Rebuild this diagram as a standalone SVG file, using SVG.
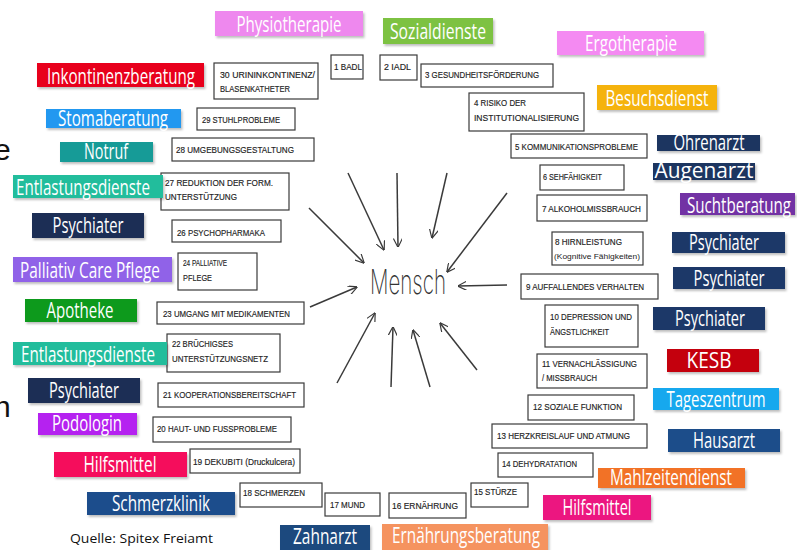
<svg xmlns="http://www.w3.org/2000/svg" width="797" height="550" viewBox="0 0 797 550">
<defs>
<style>
.lbl{font-family:"Liberation Sans Narrow","Open Sans","Liberation Sans",sans-serif;font-size:21px;text-anchor:middle;fill:#ffffff}
.box rect{fill:#ffffff;stroke:#3a3a3a;stroke-width:1.2}
.bt{font-family:"Liberation Sans",Arial,sans-serif;font-size:8.5px;fill:#222222;stroke:#222222;stroke-width:0.15}
.bs{font-family:"Liberation Sans",Arial,sans-serif;font-size:7.5px;fill:#222222}
.arr{stroke:#3a3a3a;stroke-width:1.5;fill:none;marker-end:url(#ah)}
.edge{font-family:"Liberation Sans",Arial,sans-serif;font-size:30px;fill:#111111}
</style>
<marker id="ah" viewBox="0 0 10 10" refX="9.5" refY="5" markerWidth="9" markerHeight="9" markerUnits="userSpaceOnUse" orient="auto">
<path d="M0,0 L10,5 L0,10" fill="none" stroke="#3a3a3a" stroke-width="1.3"/>
</marker>
<filter id="sh" x="-10%" y="-20%" width="130%" height="160%">
<feDropShadow dx="1.5" dy="2" stdDeviation="1.2" flood-color="#000" flood-opacity="0.25"/>
</filter>
</defs>
<rect width="797" height="550" fill="#ffffff"/>

<text class="edge" x="-6" y="160">e</text>
<text class="edge" x="-6" y="417">n</text>

<g id="center">
<text x="370" y="294" font-family="Inter,'Open Sans',sans-serif" font-weight="200" font-size="34" fill="#333333" textLength="76" lengthAdjust="spacingAndGlyphs">Mensch</text>
</g>

<g id="connectors">
<line class="arr" x1="309" y1="208" x2="364" y2="263"/>
<line class="arr" x1="348" y1="173" x2="384" y2="250"/>
<line class="arr" x1="397" y1="173" x2="398" y2="247"/>
<line class="arr" x1="447" y1="173" x2="432" y2="238"/>
<line class="arr" x1="507" y1="193" x2="447" y2="272"/>
<line class="arr" x1="507" y1="285" x2="458" y2="286"/>
<line class="arr" x1="310" y1="307" x2="357" y2="287"/>
<line class="arr" x1="337" y1="383" x2="375" y2="313"/>
<line class="arr" x1="391" y1="387" x2="393" y2="327"/>
<line class="arr" x1="430" y1="387" x2="413" y2="330"/>
<line class="arr" x1="477" y1="370" x2="440" y2="323"/>
</g>

<g id="b1" class="box"><rect x="331" y="55" width="32" height="24"/><text class="bt" x="334" y="70" textLength="28" lengthAdjust="spacingAndGlyphs">1 BADL</text></g>
<g id="b2" class="box"><rect x="380" y="55" width="37" height="25"/><text class="bt" x="384" y="70" textLength="27" lengthAdjust="spacingAndGlyphs">2 IADL</text></g>
<g id="b3" class="box"><rect x="421" y="64" width="132" height="23"/><text class="bt" x="425" y="78" textLength="114" lengthAdjust="spacingAndGlyphs">3 GESUNDHEITSFÖRDERUNG</text></g>
<g id="b4" class="box"><rect x="469" y="93" width="115" height="38"/><text class="bt" x="474" y="106" textLength="52" lengthAdjust="spacingAndGlyphs">4 RISIKO DER</text><text class="bt" x="474" y="121" textLength="105" lengthAdjust="spacingAndGlyphs">INSTITUTIONALISIERUNG</text></g>
<g id="b5" class="box"><rect x="511" y="134" width="136" height="24"/><text class="bt" x="515" y="150" textLength="123" lengthAdjust="spacingAndGlyphs">5 KOMMUNIKATIONSPROBLEME</text></g>
<g id="b6" class="box"><rect x="540" y="165" width="84" height="25"/><text class="bt" x="543" y="180" textLength="59" lengthAdjust="spacingAndGlyphs">6 SEHFÄHIGKEIT</text></g>
<g id="b7" class="box"><rect x="537" y="195" width="110" height="26"/><text class="bt" x="542" y="212" textLength="99" lengthAdjust="spacingAndGlyphs">7 ALKOHOLMISSBRAUCH</text></g>
<g id="b8" class="box"><rect x="552" y="232" width="91" height="33"/><text class="bt" x="555" y="245" textLength="67" lengthAdjust="spacingAndGlyphs">8 HIRNLEISTUNG</text><text class="bs" x="554" y="259" textLength="86" lengthAdjust="spacingAndGlyphs">(Kognitive Fähigkeiten)</text></g>
<g id="b9" class="box"><rect x="521" y="274" width="137" height="25"/><text class="bt" x="526" y="290" textLength="118" lengthAdjust="spacingAndGlyphs">9 AUFFALLENDES VERHALTEN</text></g>
<g id="b10" class="box"><rect x="545" y="305" width="93" height="42"/><text class="bt" x="550" y="320" textLength="82" lengthAdjust="spacingAndGlyphs">10 DEPRESSION UND</text><text class="bt" x="550" y="335" textLength="59" lengthAdjust="spacingAndGlyphs">ÄNGSTLICHKEIT</text></g>
<g id="b11" class="box"><rect x="537" y="354" width="110" height="34"/><text class="bt" x="542" y="367" textLength="95" lengthAdjust="spacingAndGlyphs">11 VERNACHLÄSSIGUNG</text><text class="bt" x="542" y="381" textLength="55" lengthAdjust="spacingAndGlyphs">/ MISSBRAUCH</text></g>
<g id="b12" class="box"><rect x="528" y="395" width="106" height="25"/><text class="bt" x="533" y="410" textLength="89" lengthAdjust="spacingAndGlyphs">12 SOZIALE FUNKTION</text></g>
<g id="b13" class="box"><rect x="492" y="424" width="155" height="24"/><text class="bt" x="497" y="439" textLength="133" lengthAdjust="spacingAndGlyphs">13 HERZKREISLAUF  UND ATMUNG</text></g>
<g id="b14" class="box"><rect x="498" y="453" width="95" height="24"/><text class="bt" x="502" y="467" textLength="75" lengthAdjust="spacingAndGlyphs">14 DEHYDRATATION</text></g>
<g id="b15" class="box"><rect x="471" y="483" width="57" height="24"/><text class="bt" x="474" y="495" textLength="43" lengthAdjust="spacingAndGlyphs">15 STÜRZE</text></g>
<g id="b16" class="box"><rect x="389" y="493" width="77" height="25"/><text class="bt" x="392" y="509" textLength="66" lengthAdjust="spacingAndGlyphs">16 ERNÄHRUNG</text></g>
<g id="b17" class="box"><rect x="325" y="493" width="55" height="23"/><text class="bt" x="330" y="508" textLength="35" lengthAdjust="spacingAndGlyphs">17 MUND</text></g>
<g id="b18" class="box"><rect x="240" y="483" width="82" height="24"/><text class="bt" x="243" y="496" textLength="62" lengthAdjust="spacingAndGlyphs">18 SCHMERZEN</text></g>
<g id="b19" class="box"><rect x="190" y="449" width="110" height="24"/><text class="bt" x="193" y="465" textLength="102" lengthAdjust="spacingAndGlyphs">19 DEKUBITI (Druckulcera)</text></g>
<g id="b20" class="box"><rect x="153" y="417" width="138" height="25"/><text class="bt" x="157" y="432" textLength="120" lengthAdjust="spacingAndGlyphs">20 HAUT- UND FUSSPROBLEME</text></g>
<g id="b21" class="box"><rect x="158" y="383" width="146" height="24"/><text class="bt" x="163" y="398" textLength="133" lengthAdjust="spacingAndGlyphs">21 KOOPERATIONSBEREITSCHAFT</text></g>
<g id="b22" class="box"><rect x="167" y="334" width="113" height="38"/><text class="bt" x="172" y="347" textLength="61" lengthAdjust="spacingAndGlyphs">22 BRÜCHIGSES</text><text class="bt" x="172" y="362" textLength="96" lengthAdjust="spacingAndGlyphs">UNTERSTÜTZUNGSNETZ</text></g>
<g id="b23" class="box"><rect x="157" y="302" width="147" height="22"/><text class="bt" x="163" y="317" textLength="127" lengthAdjust="spacingAndGlyphs">23 UMGANG MIT MEDIKAMENTEN</text></g>
<g id="b24" class="box"><rect x="178" y="253" width="79" height="37"/><text class="bt" x="183" y="266" textLength="44" lengthAdjust="spacingAndGlyphs">24 PALLIATIVE</text><text class="bt" x="183" y="281" textLength="29" lengthAdjust="spacingAndGlyphs">PFLEGE</text></g>
<g id="b26" class="box"><rect x="172" y="220" width="109" height="22"/><text class="bt" x="177" y="236" textLength="88" lengthAdjust="spacingAndGlyphs">26 PSYCHOPHARMAKA</text></g>
<g id="b27" class="box"><rect x="161" y="173" width="128" height="37"/><text class="bt" x="165" y="186" textLength="108" lengthAdjust="spacingAndGlyphs">27 REDUKTION DER FORM.</text><text class="bt" x="165" y="200" textLength="72" lengthAdjust="spacingAndGlyphs">UNTERSTÜTZUNG</text></g>
<g id="b28" class="box"><rect x="172" y="138" width="142" height="23"/><text class="bt" x="176" y="153" textLength="118" lengthAdjust="spacingAndGlyphs">28 UMGEBUNGSGESTALTUNG</text></g>
<g id="b29" class="box"><rect x="197" y="108" width="98" height="22"/><text class="bt" x="202" y="123" textLength="78" lengthAdjust="spacingAndGlyphs">29 STUHLPROBLEME</text></g>
<g id="b30" class="box"><rect x="214" y="63" width="104" height="36"/><text class="bt" x="220" y="78" textLength="95" lengthAdjust="spacingAndGlyphs">30 URININKONTINENZ/</text><text class="bt" x="220" y="92" textLength="70" lengthAdjust="spacingAndGlyphs">BLASENKATHETER</text></g>

<g id="physiotherapie"><rect x="215" y="11" width="148" height="25" fill="#EE88EE" filter="url(#sh)"/><text class="lbl" x="289" y="32" textLength="105" lengthAdjust="spacingAndGlyphs" fill="#FCE6FC">Physiotherapie</text></g>
<g id="sozialdienste"><rect x="383" y="18" width="110" height="26" fill="#7DC242" filter="url(#sh)"/><text class="lbl" x="438" y="39" textLength="96" lengthAdjust="spacingAndGlyphs">Sozialdienste</text></g>
<g id="ergotherapie"><rect x="557" y="31" width="147" height="24" fill="#F48AF2" filter="url(#sh)"/><text class="lbl" x="631" y="51" textLength="92" lengthAdjust="spacingAndGlyphs" fill="#FDE8FD">Ergotherapie</text></g>
<g id="besuchsdienst"><rect x="597" y="85" width="120" height="25" fill="#F5B30A" filter="url(#sh)"/><text class="lbl" x="657" y="106" textLength="103" lengthAdjust="spacingAndGlyphs" fill="#FFF5DC">Besuchsdienst</text></g>
<g id="inkontinenzberatung"><rect x="37" y="63" width="167" height="24" fill="#E8001E" filter="url(#sh)"/><text class="lbl" x="121" y="84" textLength="148" lengthAdjust="spacingAndGlyphs">Inkontinenzberatung</text></g>
<g id="stomaberatung"><rect x="46" y="109" width="135" height="19" fill="#2098F0" filter="url(#sh)"/><text class="lbl" x="113" y="126" textLength="110" lengthAdjust="spacingAndGlyphs">Stomaberatung</text></g>
<g id="notruf"><rect x="60" y="142" width="93" height="20" fill="#169B97" filter="url(#sh)"/><text class="lbl" x="106" y="159" textLength="44" lengthAdjust="spacingAndGlyphs">Notruf</text></g>
<g id="entlastungsdienste1"><rect x="13" y="175" width="150" height="23" fill="#22BD9C" filter="url(#sh)"/><text class="lbl" x="83" y="195" textLength="134" lengthAdjust="spacingAndGlyphs">Entlastungsdienste</text></g>
<g id="psychiater-l1"><rect x="32" y="213" width="112" height="25" fill="#1F2F55" filter="url(#sh)"/><text class="lbl" x="88" y="233" textLength="71" lengthAdjust="spacingAndGlyphs">Psychiater</text></g>
<g id="palliativ"><rect x="13" y="257" width="159" height="25" fill="#9062E8" filter="url(#sh)"/><text class="lbl" x="90" y="278" textLength="140" lengthAdjust="spacingAndGlyphs">Palliativ Care Pflege</text></g>
<g id="apotheke"><rect x="25" y="299" width="112" height="23" fill="#0E9A1A" filter="url(#sh)"/><text class="lbl" x="80" y="318" textLength="67" lengthAdjust="spacingAndGlyphs">Apotheke</text></g>
<g id="entlastungsdienste2"><rect x="13" y="342" width="154" height="23" fill="#22BD9C" filter="url(#sh)"/><text class="lbl" x="88" y="362" textLength="134" lengthAdjust="spacingAndGlyphs">Entlastungsdienste</text></g>
<g id="psychiater-l2"><rect x="28" y="378" width="112" height="25" fill="#1F2F55" filter="url(#sh)"/><text class="lbl" x="84" y="398" textLength="70" lengthAdjust="spacingAndGlyphs">Psychiater</text></g>
<g id="podologin"><rect x="38" y="413" width="99" height="22" fill="#B520F0" filter="url(#sh)"/><text class="lbl" x="87" y="431" textLength="70" lengthAdjust="spacingAndGlyphs">Podologin</text></g>
<g id="hilfsmittel-l"><rect x="54" y="452" width="133" height="25" fill="#F50B5C" filter="url(#sh)"/><text class="lbl" x="120" y="472" textLength="73" lengthAdjust="spacingAndGlyphs">Hilfsmittel</text></g>
<g id="schmerzklinik"><rect x="87" y="492" width="148" height="23" fill="#1E4E8C" filter="url(#sh)"/><text class="lbl" x="161" y="511" textLength="98" lengthAdjust="spacingAndGlyphs">Schmerzklinik</text></g>
<g id="zahnarzt"><rect x="280" y="525" width="90" height="27" fill="#1E4A7E" filter="url(#sh)"/><text class="lbl" x="325" y="544" textLength="64" lengthAdjust="spacingAndGlyphs">Zahnarzt</text></g>
<g id="ernaehrungsberatung"><rect x="382" y="524" width="166" height="28" fill="#F5935F" filter="url(#sh)"/><text class="lbl" x="466" y="543" textLength="148" lengthAdjust="spacingAndGlyphs">Ernährungsberatung</text></g>
<g id="hilfsmittel-r"><rect x="543" y="495" width="108" height="25" fill="#EC1480" filter="url(#sh)"/><text class="lbl" x="597" y="515" textLength="69" lengthAdjust="spacingAndGlyphs">Hilfsmittel</text></g>
<g id="mahlzeitendienst"><rect x="598" y="468" width="147" height="20" fill="#F27225" filter="url(#sh)"/><text class="lbl" x="671" y="485" textLength="122" lengthAdjust="spacingAndGlyphs">Mahlzeitendienst</text></g>
<g id="hausarzt"><rect x="668" y="429" width="112" height="23" fill="#1F4E8A" filter="url(#sh)"/><text class="lbl" x="724" y="448" textLength="62" lengthAdjust="spacingAndGlyphs">Hausarzt</text></g>
<g id="tageszentrum"><rect x="653" y="388" width="126" height="22" fill="#16A8EE" filter="url(#sh)"/><text class="lbl" x="716" y="407" textLength="99" lengthAdjust="spacingAndGlyphs">Tageszentrum</text></g>
<g id="kesb"><rect x="667" y="349" width="92" height="23" fill="#C40010" filter="url(#sh)"/><text class="lbl" x="709" y="368" textLength="45" lengthAdjust="spacingAndGlyphs">KESB</text></g>
<g id="psychiater-r10"><rect x="653" y="307" width="112" height="23" fill="#1E3768" filter="url(#sh)"/><text class="lbl" x="710" y="326" textLength="70" lengthAdjust="spacingAndGlyphs">Psychiater</text></g>
<g id="psychiater-r9"><rect x="673" y="267" width="112" height="22" fill="#1E3768" filter="url(#sh)"/><text class="lbl" x="729" y="286" textLength="71" lengthAdjust="spacingAndGlyphs">Psychiater</text></g>
<g id="psychiater-r8"><rect x="672" y="232" width="113" height="21" fill="#1E3768" filter="url(#sh)"/><text class="lbl" x="724" y="250" textLength="70" lengthAdjust="spacingAndGlyphs">Psychiater</text></g>
<g id="suchtberatung"><rect x="680" y="193" width="115" height="22" fill="#7230A4" filter="url(#sh)"/><text class="lbl" x="739" y="213" textLength="104" lengthAdjust="spacingAndGlyphs">Suchtberatung</text></g>
<g id="augenarzt"><rect x="653" y="163" width="102" height="17" fill="#1E3660" filter="url(#sh)"/><text class="lbl" x="704" y="178" textLength="99" lengthAdjust="spacingAndGlyphs">Augenarzt</text></g>
<g id="ohrenarzt"><rect x="657" y="135" width="103" height="16" fill="#1E3660" filter="url(#sh)"/><text class="lbl" x="709" y="150" textLength="71" lengthAdjust="spacingAndGlyphs">Ohrenarzt</text></g>

<text x="70" y="543" font-family="'Open Sans','Liberation Sans',sans-serif" font-size="12.5" fill="#111111" textLength="143" lengthAdjust="spacingAndGlyphs">Quelle: Spitex Freiamt</text>
</svg>
